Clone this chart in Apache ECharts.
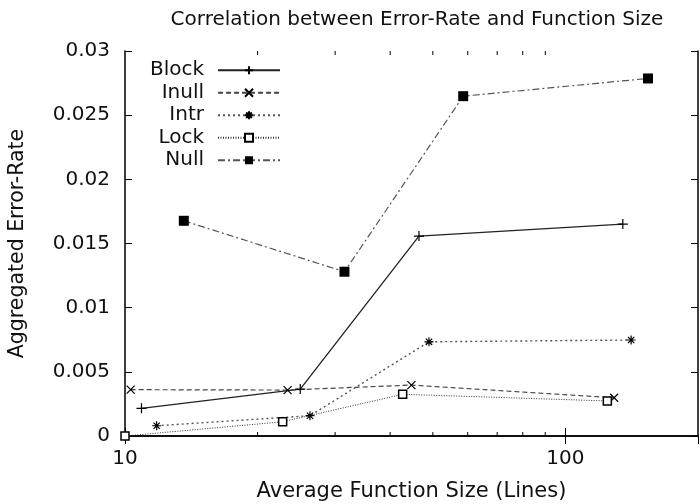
<!DOCTYPE html>
<html>
<head>
<meta charset="utf-8">
<script src="https://cdn.jsdelivr.net/npm/echarts@6/dist/echarts.min.js"></script>
<style>
  html, body { margin: 0; padding: 0; background: #fff; }
  #chart { width: 700px; height: 504px; }
</style>
</head>
<body>
<div id="chart"></div>
<script>
// values, [function size, error rate]
const blockData = [[10.9, 0.00216], [25.0, 0.00366], [46.5, 0.01558], [135, 0.01651]];
const inullData = [[10.3, 0.00361], [23.4, 0.00358], [44.7, 0.00397], [129, 0.00298]];
const intrData = [[11.8, 0.0008], [26.3, 0.00158], [49.0, 0.00734], [141, 0.00748]];
const lockData = [[10.0, 0.0], [22.8, 0.00111], [42.7, 0.00325], [124.5, 0.00273]];
const nullData = [[13.6, 0.01677], [31.5, 0.0128], [58.6, 0.02648], [154, 0.02786]];
const seriesNames = ["Block", "Inull", "Intr", "Lock", "Null"];
// minor ticks of the log axis (gnuplot style)
const minorTicks = [20, 30, 40, 50, 60, 70, 80, 90];

const FONT = "DejaVu Sans";

// symbols drawn with strokes only
const plusPath = "path://M0,5H10M5,0V10";
const crossPath = "path://M0,0L10,10M0,10L10,0";
const starPath = "path://M0,5H10M5,0V10M1.5,1.5L8.5,8.5M1.5,8.5L8.5,1.5";

function strokeStyle(w) {
  return { color: "#000", borderColor: "#000", borderWidth: w };
}

const chart = echarts.init(document.getElementById("chart"));

const option = {
  backgroundColor: "#fff",
  animation: false,
  title: {
    text: "Correlation between Error-Rate and Function Size",
    left: 412,
    top: 5,
    textAlign: "center",
    textStyle: { fontFamily: FONT, fontSize: 20, fontWeight: "normal", color: "#111" }
  },
  legend: {
    data: seriesNames,
    orient: "vertical",
    align: "right",
    right: 419,
    top: 60,
    padding: 0,
    itemGap: 2,
    itemWidth: 62,
    itemHeight: 10,
    textStyle: { fontFamily: FONT, fontSize: 20, color: "#111", lineHeight: 20.5, padding: [0, 9, 0, 0] }
  },
  grid: { left: 125, right: 2, top: 51, bottom: 68, outerBoundsMode: "none" },
  xAxis: [
    {
      type: "log",
      logBase: 10,
      min: 10,
      max: 200,
      name: "Average Function Size (Lines)",
      nameLocation: "middle",
      nameGap: 45,
      nameTextStyle: { fontFamily: FONT, fontSize: 21, color: "#111" },
      axisLine: { lineStyle: { color: "#000", width: 1.5 } },
      axisTick: { inside: true, length: 8, lineStyle: { color: "#000" } },
      axisLabel: { fontFamily: FONT, fontSize: 20, color: "#111", margin: 13, showMaxLabel: false },
      splitLine: { show: false },
      minorTick: { show: false }
    },
    {
      type: "log",
      logBase: 10,
      min: 10,
      max: 200,
      position: "top",
      axisLine: { lineStyle: { color: "#000", width: 1.5 } },
      axisTick: { inside: true, length: 8, lineStyle: { color: "#000" } },
      axisLabel: { show: false },
      splitLine: { show: false }
    }
  ],
  yAxis: [
    {
      type: "value",
      min: 0,
      max: 0.03,
      interval: 0.005,
      name: "Aggregated Error-Rate",
      nameLocation: "middle",
      nameGap: 97,
      nameTextStyle: { fontFamily: FONT, fontSize: 20.5, color: "#111" },
      axisLine: { show: true, lineStyle: { color: "#000", width: 1.5 } },
      axisTick: { show: true, inside: true, length: 7, lineStyle: { color: "#000" } },
      axisLabel: { fontFamily: FONT, fontSize: 20, color: "#111", margin: 15 },
      splitLine: { show: false }
    },
    {
      type: "value",
      min: 0,
      max: 0.03,
      interval: 0.005,
      position: "right",
      axisLine: { show: true, lineStyle: { color: "#000", width: 1.5 } },
      axisTick: { show: true, inside: true, length: 7, lineStyle: { color: "#000" } },
      axisLabel: { show: false },
      splitLine: { show: false }
    }
  ],
  series: [
    {
      name: "Block",
      type: "line",
      data: blockData,
      symbol: plusPath,
      symbolSize: 10,
      itemStyle: strokeStyle(1.2),
      lineStyle: { color: "#222", width: 1.3, type: "solid" }
    },
    {
      name: "Inull",
      type: "line",
      data: inullData,
      symbol: crossPath,
      symbolSize: 8,
      itemStyle: strokeStyle(1.2),
      lineStyle: { color: "#444", width: 1.2, type: [5, 3] }
    },
    {
      name: "Intr",
      type: "line",
      data: intrData,
      symbol: starPath,
      symbolSize: 9,
      itemStyle: strokeStyle(1.2),
      lineStyle: { color: "#555", width: 1.4, type: [2, 3] }
    },
    {
      name: "Lock",
      type: "line",
      data: lockData,
      symbol: "rect",
      symbolSize: 8,
      itemStyle: { color: "#fff", borderColor: "#000", borderWidth: 1.5 },
      lineStyle: { color: "#333", width: 1, type: [1, 1.5] }
    },
    {
      name: "Null",
      type: "line",
      data: nullData,
      symbol: "rect",
      symbolSize: 10,
      itemStyle: { color: "#000" },
      lineStyle: { color: "#555", width: 1.2, type: [7, 3, 2, 3] }
    },
    {
      // minor ticks on bottom and top of the log axis
      type: "custom",
      silent: true,
      data: minorTicks.map(v => [v, 0]),
      renderItem: function(params, api) {
        const b = api.coord([api.value(0), 0]);
        const t = api.coord([api.value(0), 0.03]);
        return {
          type: "group",
          children: [
            { type: "line", shape: { x1: b[0], y1: b[1], x2: b[0], y2: b[1] - 4 }, style: { stroke: "#000", lineWidth: 1 } },
            { type: "line", shape: { x1: t[0], y1: t[1], x2: t[0], y2: t[1] + 4 }, style: { stroke: "#000", lineWidth: 1 } }
          ]
        };
      }
    }
  ]
};

chart.setOption(option);
</script>
</body>
</html>
